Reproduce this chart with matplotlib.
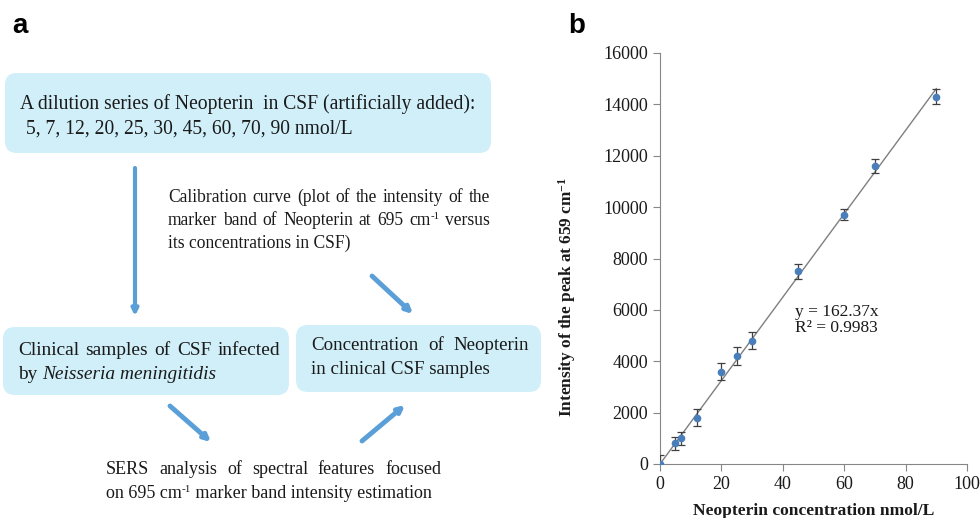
import matplotlib
matplotlib.use("Agg")
import matplotlib.pyplot as plt
from matplotlib.patches import FancyBboxPatch
import numpy as np

plt.rcParams['font.family'] = ['Liberation Serif', 'DejaVu Serif']
plt.rcParams['mathtext.default'] = 'regular'

# ---------------- data ----------------
conc = [0, 5, 7, 12, 20, 25, 30, 45, 60, 70, 90]
intensity = [0, 800, 1000, 1800, 3600, 4200, 4800, 7500, 9700, 11600, 14300]
err = [350, 250, 250, 330, 330, 350, 330, 300, 220, 280, 300]
slope = 162.37
r2 = 0.9983
xticks = [0, 20, 40, 60, 80, 100]
yticks = list(range(0, 16001, 2000))

W, H = 980, 518
fig = plt.figure(figsize=(W / 100, H / 100), dpi=100)
ax0 = fig.add_axes([0, 0, 1, 1])
ax0.set_xlim(0, W)
ax0.set_ylim(H, 0)
ax0.axis('off')
fig.canvas.draw()
renderer = fig.canvas.get_renderer()

BOX = '#d0eff9'
ARR = '#5b9fd8'
TXT = '#1a1a1a'


def P(s, style='normal', sup=False):
    return (s, style, sup)


def run_width(s, style, sup, fs):
    t = ax0.text(0, 0, s, fontsize=fs * (0.62 if sup else 1), style=style)
    w = t.get_window_extent(renderer).width
    t.remove()
    return w


def draw_runs(runs, x, y, fs):
    for s, style, sup in runs:
        f = fs * (0.62 if sup else 1)
        yy = y - (fs * 0.5 if sup else 0)
        t = ax0.text(x, yy, s, fontsize=f, style=style, va='baseline', ha='left', color=TXT)
        x += t.get_window_extent(renderer).width


def runs_width(runs, fs):
    return sum(run_width(s, st, sp, fs) for s, st, sp in runs)


def line_justified(words, x0, x1, y, fs):
    ws = [runs_width(w, fs) for w in words]
    gap = (x1 - x0 - sum(ws)) / (len(words) - 1)
    x = x0
    for w, wd in zip(words, ws):
        draw_runs(w, x, y, fs)
        x += wd + gap


def to_words(s):
    return [[P(w)] for w in s.split()]


def fit_fs(runs, target):
    base = 13.0
    return base * target / runs_width(runs, base)


def box(x0, y0, x1, y1):
    p = FancyBboxPatch((x0 + 12, y0 + 12), x1 - x0 - 24, y1 - y0 - 24,
                       boxstyle='round,pad=12', fc=BOX, ec='none', zorder=0)
    ax0.add_patch(p)


def arrow(x0, y0, x1, y1, lw=3.5):
    ax0.annotate('', xy=(x1, y1), xytext=(x0, y0),
                 arrowprops=dict(arrowstyle='-|>', lw=lw, color=ARR,
                                 mutation_scale=9, shrinkA=0, shrinkB=0))


# panel letters
ax0.text(12, 33, 'a', fontsize=20, fontweight='bold', family='Liberation Sans', va='baseline')
ax0.text(568, 33, 'b', fontsize=20, fontweight='bold', family='Liberation Sans', va='baseline')

# boxes
box(5, 73, 491, 153)
box(3, 327, 289, 395)
box(296, 325, 541, 392)

# box 1
b1l1 = [P('A dilution series of Neopterin  in CSF (artificially added):')]
b1l2 = [P('5, 7, 12, 20, 25, 30, 45, 60, 70, 90 nmol/L')]
fs1 = fit_fs(b1l1, 454)
draw_runs(b1l1, 20, 109, fs1)
draw_runs(b1l2, 26, 134, fs1)

# calibration
cl1 = to_words('Calibration curve (plot of the intensity of the')
cl2 = to_words('marker band of Neopterin at 695') + [[P('cm'), P('-1', sup=True)]] + [[P('versus')]]
cl3 = [P('its concentrations in CSF)')]
fsc = fit_fs(cl3, 182)
line_justified(cl1, 168, 490, 202, fsc)
line_justified(cl2, 168, 490, 225, fsc)
draw_runs(cl3, 168, 248, fsc)

# box 2
c2l1 = to_words('Clinical samples of CSF infected')
c2l2 = [P('by '), P('Neisseria meningitidis', 'italic')]
fs2 = fit_fs(c2l2, 198)
line_justified(c2l1, 18, 280, 355, fs2)
draw_runs(c2l2, 18, 379, fs2)

# box 3
c3l1 = to_words('Concentration of Neopterin')
c3l2 = [P('in clinical CSF samples')]
fs3 = fit_fs(c3l2, 178)
line_justified(c3l1, 311, 529, 350, fs3)
draw_runs(c3l2, 311, 374, fs3)

# SERS
s1 = to_words('SERS analysis of spectral features focused')
s2 = [P('on 695 cm'), P('-1', sup=True), P(' marker band intensity estimation')]
fss = fit_fs(s2, 325)
line_justified(s1, 106, 441, 474, fss)
draw_runs(s2, 106, 498, fss)

# arrows
arrow(135, 168, 135, 316, lw=3)
arrow(372, 276, 413, 314)
arrow(170, 406, 211, 442)
arrow(362, 441, 405, 405)

# ---------------- panel b ----------------
x_l, x_r = 660, 967
y_b, y_t = 464, 53
ax = fig.add_axes([x_l / W, (H - y_b) / H, (x_r - x_l) / W, (y_b - y_t) / H])
ax.set_xlim(0, 100)
ax.set_ylim(0, 16000)
ax.patch.set_alpha(0)

xs = np.array([0, max(conc)])
ax.plot(xs, slope * xs, color='#7f7f7f', lw=1.0, zorder=2)
ax.errorbar(conc, intensity, yerr=err, fmt='o', ms=4.5, color='#4a7ebb',
            ecolor='#404040', elinewidth=0.9, capsize=3, capthick=0.9, zorder=3)

ax.text(44, 5600, 'y = 162.37x\nR² = 0.9983', fontsize=12.5, va='center', ha='left',
        linespacing=1.0, color=TXT)

for s in ['top', 'right']:
    ax.spines[s].set_visible(False)
for s in ['left', 'bottom']:
    ax.spines[s].set_color('#868686')
    ax.spines[s].set_linewidth(0.8)
ax.set_xticks(xticks)
ax.set_yticks(yticks)
ax.tick_params(axis='both', direction='out', length=5, color='#868686', width=0.8,
               labelsize=13, labelcolor=TXT)
ax.set_xlabel('Neopterin concentration nmol/L', fontsize=12.6, fontweight='bold', color=TXT)
ax.xaxis.set_label_coords(0.5, -0.095)
ax.set_ylabel('Intensity of the peak at 659 cm$^{-1}$', fontsize=12.4, fontweight='bold', color=TXT)
ax.yaxis.set_label_coords(-0.267, 0.406)

fig.savefig('out.png', dpi=100)
